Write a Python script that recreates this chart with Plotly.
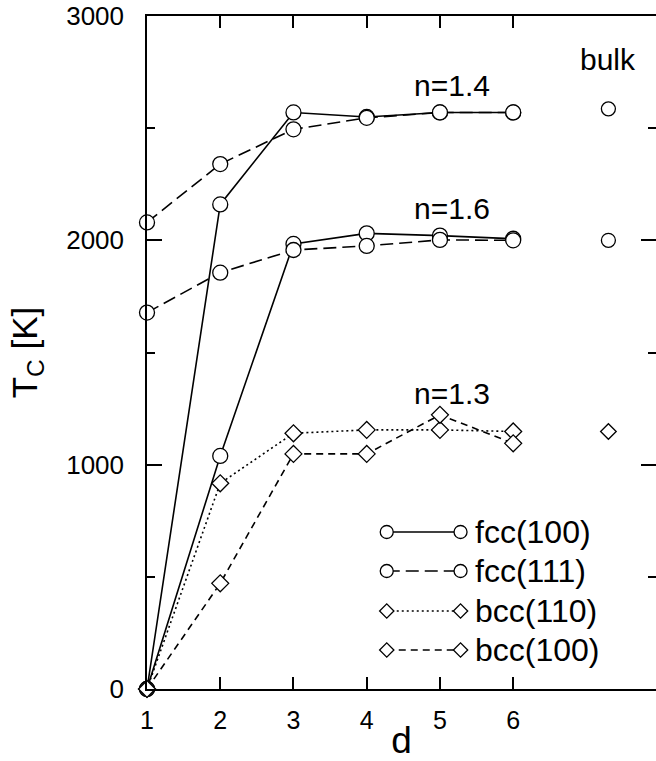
import plotly.graph_objects as go

# ---------------- data ----------------
d_vals = [1, 2, 3, 4, 5, 6]

fcc100_n14 = [0, 2160, 2570, 2550, 2570, 2570]
fcc111_n14 = [2080, 2340, 2495, 2546, 2570, 2570]
fcc100_n16 = [0, 1039, 1984, 2031, 2021, 2007]
fcc111_n16 = [1678, 1856, 1957, 1975, 2002, 2000]
bcc110_n13 = [0, 917, 1140, 1155, 1155, 1148]
bcc100_n13 = [0, 471, 1048, 1048, 1222, 1095]

bulk_x = 7.3
bulk_fcc = [2586, 2000]
bulk_bcc = [1148]

x_ticks = [1, 2, 3, 4, 5, 6]
y_ticks = [0, 1000, 2000, 3000]

legend_names = ["fcc(100)", "fcc(111)", "bcc(110)", "bcc(100)"]

labels_n = ["n=1.4", "n=1.6", "n=1.3"]
labels_n_pos = [(5.16, 2688), (5.16, 2140), (5.16, 1319)]

FONT = "Liberation Sans, Arial, Helvetica, sans-serif"
BLACK = "black"

styles = {
    "fcc(100)": dict(dash="solid", symbol="circle", size=15),
    "fcc(111)": dict(dash="13px,6px", symbol="circle", size=15),
    "bcc(110)": dict(dash="2px,3px", symbol="diamond", size=13),
    "bcc(100)": dict(dash="7px,5px", symbol="diamond", size=13),
}

fig = go.Figure()

series = [
    ("fcc(100)", fcc100_n14),
    ("fcc(111)", fcc111_n14),
    ("fcc(100)", fcc100_n16),
    ("fcc(111)", fcc111_n16),
    ("bcc(110)", bcc110_n13),
    ("bcc(100)", bcc100_n13),
]

for name, vals in series:
    st = styles[name]
    fig.add_trace(go.Scatter(
        x=d_vals, y=vals, mode="lines+markers",
        line=dict(color=BLACK, width=1.6, dash=st["dash"]),
        marker=dict(symbol=st["symbol"], size=st["size"],
                    color="white", line=dict(color=BLACK, width=1.3)),
        cliponaxis=False, showlegend=False,
    ))

# bulk points
fig.add_trace(go.Scatter(
    x=[bulk_x] * len(bulk_fcc), y=bulk_fcc, mode="markers",
    marker=dict(symbol="circle", size=14, color="white",
                line=dict(color=BLACK, width=1.3)),
    cliponaxis=False, showlegend=False,
))
fig.add_trace(go.Scatter(
    x=[bulk_x] * len(bulk_bcc), y=bulk_bcc, mode="markers",
    marker=dict(symbol="diamond", size=12, color="white",
                line=dict(color=BLACK, width=1.3)),
    cliponaxis=False, showlegend=False,
))

# custom legend on an overlay axis (fractions of plot area)
leg_x0, leg_x1, leg_text_x = 0.471, 0.616, 0.641
leg_rows = [0.2333, 0.1753, 0.1159, 0.058]
for name, yy in zip(legend_names, leg_rows):
    st = styles[name]
    fig.add_trace(go.Scatter(
        x=[leg_x0, leg_x1], y=[yy, yy], xaxis="x2", yaxis="y2",
        mode="lines+markers",
        line=dict(color=BLACK, width=1.6, dash=st["dash"]),
        marker=dict(symbol=st["symbol"],
                    size=13 if "fcc" in name else 11,
                    color="white", line=dict(color=BLACK, width=1.3)),
        cliponaxis=False, showlegend=False,
    ))
    fig.add_annotation(x=leg_text_x, y=yy, xref="x2", yref="y2", text=name,
                       showarrow=False, xanchor="left", yanchor="middle",
                       font=dict(family=FONT, size=32, color=BLACK))

for txt, (xx, yy) in zip(labels_n, labels_n_pos):
    fig.add_annotation(x=xx, y=yy, text=txt, showarrow=False,
                       xanchor="center", yanchor="middle",
                       font=dict(family=FONT, size=30, color=BLACK))

fig.add_annotation(x=bulk_x, y=2805, text="bulk", showarrow=False,
                   xanchor="center", yanchor="middle",
                   font=dict(family=FONT, size=30, color=BLACK))

# right-side mirrored ticks via overlay y axis
fig.add_trace(go.Scatter(x=[1], y=[0], yaxis="y3", mode="markers",
                         marker=dict(size=1, opacity=0), showlegend=False,
                         hoverinfo="skip"))

fig.update_layout(
    width=656, height=761,
    margin=dict(l=147, r=0, t=16, b=72, autoexpand=False),
    paper_bgcolor="white", plot_bgcolor="white",
    font=dict(family=FONT, color=BLACK),
    xaxis=dict(
        range=[1, 7.95], tickvals=x_ticks, ticktext=[str(v) for v in x_ticks],
        ticks="inside", ticklen=12, tickwidth=1.5, tickcolor=BLACK,
        showline=True, linecolor=BLACK, linewidth=1.5, mirror="ticks",
        showgrid=False, zeroline=False, automargin=False,
        tickfont=dict(family=FONT, size=25, color=BLACK),
        ticklabelstandoff=8,
        title=dict(text="d", font=dict(family=FONT, size=37, color=BLACK), standoff=9),
    ),
    yaxis=dict(
        range=[0, 3000], tickvals=y_ticks, ticktext=[str(v) for v in y_ticks],
        ticks="inside", ticklen=15, tickwidth=1.5, tickcolor=BLACK,
        minor=dict(dtick=500, tick0=0, ticks="inside", ticklen=8,
                   tickwidth=1.5, tickcolor=BLACK),
        showline=True, linecolor=BLACK, linewidth=1.5,
        showgrid=False, zeroline=False, automargin=False,
        tickfont=dict(family=FONT, size=26, color=BLACK),
        ticklabelstandoff=16,
        title=dict(text="T<sub>C</sub> [K]", font=dict(family=FONT, size=35, color=BLACK),
                   standoff=18),
    ),
    yaxis3=dict(
        range=[0, 3000], overlaying="y", side="right",
        tickvals=y_ticks, showticklabels=False, automargin=False,
        ticks="inside", ticklen=15, tickwidth=1.5, tickcolor=BLACK,
        minor=dict(dtick=500, tick0=0, ticks="inside", ticklen=8,
                   tickwidth=1.5, tickcolor=BLACK),
        showline=False, showgrid=False, zeroline=False,
    ),
    xaxis2=dict(range=[0, 1], overlaying="x", visible=False),
    yaxis2=dict(range=[0, 1], overlaying="y", visible=False),
)

fig.write_html("out.html")
